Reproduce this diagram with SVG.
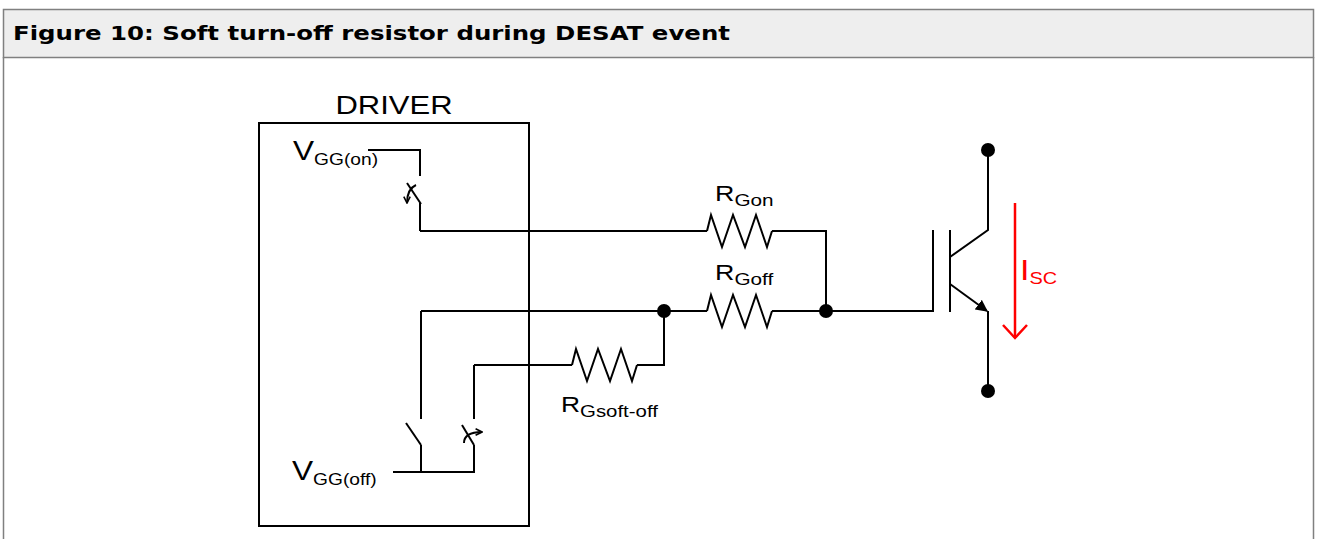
<svg xmlns="http://www.w3.org/2000/svg" width="1317" height="539" viewBox="0 0 1317 539">
<style>
.w{fill:none;stroke:#000;stroke-width:2;stroke-linejoin:miter}
.t{font-family:"Liberation Sans",Arial,sans-serif;fill:#000}
.dot{fill:#000}
.red{fill:none;stroke:#ff0000;stroke-width:2.5}
</style>
<defs>
<marker id="ah" viewBox="0 0 10 10" refX="9" refY="5" markerWidth="12" markerHeight="12" markerUnits="userSpaceOnUse" orient="auto"><path d="M0,0 L10,5 L0,10 z" fill="#000"/></marker>
<marker id="sa" viewBox="0 0 10 10" refX="9" refY="5" markerWidth="8" markerHeight="8" markerUnits="userSpaceOnUse" orient="auto"><path d="M1,1 L9,5 L1,9" fill="none" stroke="#000" stroke-width="2"/></marker>
</defs>
<rect width="1317" height="539" fill="#fff"/>
<g id="frame">
<rect x="3.5" y="9.5" width="1310" height="48" fill="#eeeeee" stroke="#808080" stroke-width="1.5"/>
<line x1="3.5" y1="57" x2="3.5" y2="539" stroke="#808080" stroke-width="1.5"/>
<line x1="1313.5" y1="57" x2="1313.5" y2="539" stroke="#808080" stroke-width="1.5"/>
<text x="13" y="40" font-family="'DejaVu Sans',Verdana,sans-serif" font-weight="bold" font-size="20" fill="#000" textLength="717" lengthAdjust="spacingAndGlyphs">Figure 10: Soft turn-off resistor during DESAT event</text>
</g>
<g id="driver">
<rect x="259" y="123" width="270" height="403" class="w"/>
<text class="t" transform="translate(394,114) scale(1.17,1)" font-size="26.5" text-anchor="middle">DRIVER</text>
<text class="t" transform="translate(293,160) scale(1.13,1)" font-size="28">V<tspan font-size="17" dy="5">GG(on)</tspan></text>
<text class="t" transform="translate(292,480) scale(1.13,1)" font-size="28">V<tspan font-size="17" dy="5">GG(off)</tspan></text>
</g>
<g id="sw-on">
<polyline class="w" points="368,150 420,150 420,176"/>
<line class="w" x1="421" y1="204" x2="407" y2="183"/>
<path class="w" d="M416,185 Q407,189 407,203" marker-end="url(#sa)"/>
<polyline class="w" points="420,203 420,231"/>
</g>
<g id="sw-off">
<polyline class="w" points="421,311 421,419"/>
<line class="w" x1="421" y1="445" x2="406" y2="423"/>
<polyline class="w" points="421,445 421,472"/>
</g>
<g id="sw-soft">
<polyline class="w" points="474,365 474,419"/>
<line class="w" x1="474" y1="445" x2="462" y2="425"/>
<path class="w" d="M464,443 Q464,432 482,432" marker-end="url(#sa)"/>
<polyline class="w" points="474,445 474,472"/>
<line class="w" x1="393" y1="472" x2="475" y2="472"/>
</g>
<g id="r-gon">
<polyline class="w" points="707,231 711,215 722,247 733,215 745,247 756,215 767,247 772,231"/>
<text class="t" transform="translate(715,201) scale(1.22,1)" font-size="22">R<tspan font-size="17" dy="5">Gon</tspan></text>
</g>
<g id="r-goff">
<polyline class="w" points="707,311 711,295 722,327 733,295 745,327 756,295 767,327 772,311"/>
<text class="t" transform="translate(715,280) scale(1.22,1)" font-size="22">R<tspan font-size="17" dy="5">Goff</tspan></text>
</g>
<g id="r-gsoft">
<polyline class="w" points="572,365 576,349 587,381 598,349 610,381 621,349 632,381 637,365"/>
<text class="t" transform="translate(561,412) scale(1.2,1)" font-size="22">R<tspan font-size="17" dy="5">Gsoft-off</tspan></text>
</g>
<g id="igbt">
<polyline class="w" points="933,230 933,312"/>
<line class="w" x1="950" y1="230" x2="950" y2="312"/>
<polyline class="w" points="988,150 988,230 950,257"/>
<line class="w" x1="950" y1="284" x2="987" y2="311" marker-end="url(#ah)"/>
<polyline class="w" points="988,311 988,390"/>
<circle class="dot" cx="988" cy="150" r="7"/>
<circle class="dot" cx="988" cy="391" r="7"/>
<line class="red" x1="1015" y1="203" x2="1015" y2="338"/>
<polyline class="red" points="1003,325 1015,338 1027,325"/>
<text transform="translate(1020,280) scale(1.17,1)" font-family="'Liberation Sans',Arial,sans-serif" font-size="29" fill="#ff0000">I<tspan font-size="17" dy="4">SC</tspan></text>
</g>
<g id="connectors">
<polyline class="w" points="420,231 707,231"/>
<polyline class="w" points="772,231 826,231 826,311"/>
<polyline class="w" points="421,311 707,311"/>
<polyline class="w" points="772,311 933,311"/>
<polyline class="w" points="474,365 572,365"/>
<polyline class="w" points="637,365 664,365 664,311"/>
<circle class="dot" cx="664" cy="311" r="7"/>
<circle class="dot" cx="826" cy="311" r="7"/>
</g>
</svg>
